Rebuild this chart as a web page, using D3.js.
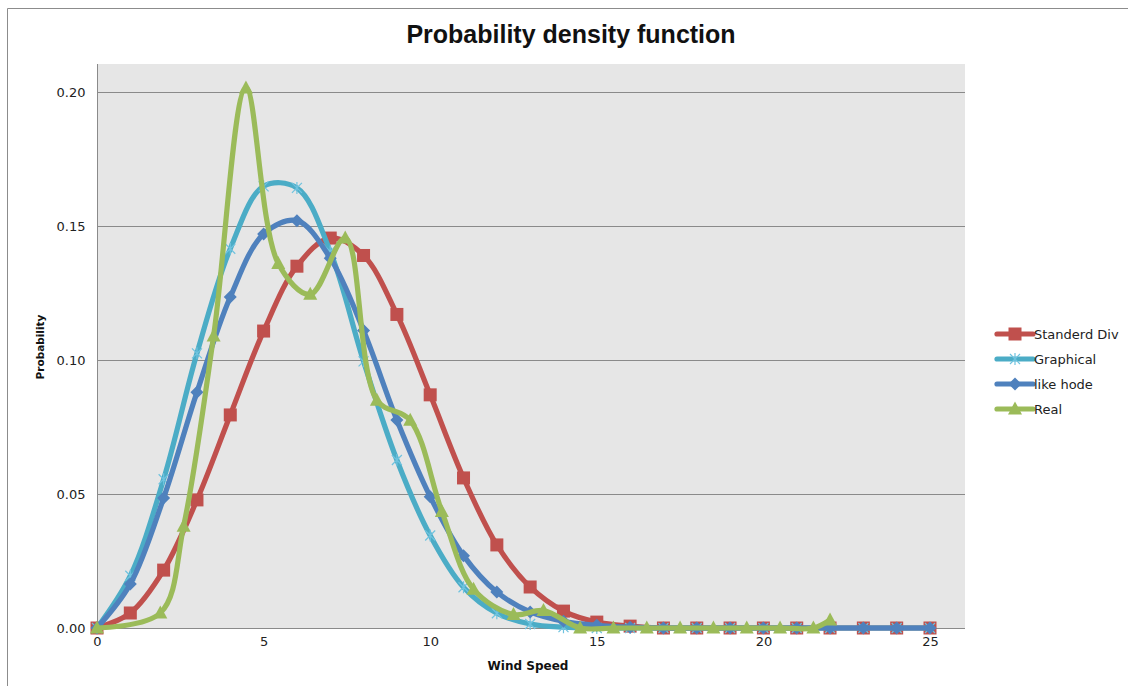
<!DOCTYPE html>
<html>
<head>
<meta charset="utf-8">
<script src="https://cdn.jsdelivr.net/npm/d3@7"></script>
<style>
  body { margin: 0; background: #fff; }
  text { font-family: "DejaVu Sans", sans-serif; }
</style>
</head>
<body>
<svg id="chart" width="1128" height="686"></svg>
<script>
// values
const stdX = [0,1,2,3,4,5,6,7,8,9,10,11,12,13,14,15,16,17,18,19,20,21,22,23,24,25]
const stdY = [0,0.0056,0.0216,0.0478,0.0795,0.1108,0.135,0.1455,0.139,0.117,0.087,0.056,0.031,0.0153,0.0063,0.0022,0.0007,0,0,0,0,0,0,0,0,0]

const graphX = [0,1,2,3,4,5,6,7,8,9,10,11,12,13,14,15,16,17,18,19,20,21,22,23,24,25]
const graphY = [0,0.0195,0.0555,0.1025,0.1415,0.1648,0.1642,0.1405,0.0995,0.0627,0.0345,0.0152,0.0055,0.0015,0.0003,0,0,0,0,0,0,0,0,0,0,0]

const hodeX = [0,1,2,3,4,5,6,7,8,9,10,11,12,13,14,15,16,17,18,19,20,21,22,23,24,25]
const hodeY = [0,0.0164,0.0485,0.088,0.1235,0.147,0.152,0.138,0.111,0.0776,0.049,0.027,0.0134,0.006,0.0025,0.001,0.0003,0,0,0,0,0,0,0,0,0]

const realX = [0,1.9,2.6,3.5,4.47,5.44,6.4,7.45,8.4,9.4,10.35,11.3,12.5,13.4,14.5,15.5,16.5,17.5,18.5,19.5,20.5,21.5,22]
const realY = [0,0.0056,0.038,0.109,0.2015,0.136,0.1245,0.1455,0.085,0.0775,0.0435,0.0145,0.005,0.0065,0,0,0,0,0,0,0,0,0.003]

const seriesNames = ['Standerd Div', 'Graphical', 'like hode', 'Real']
const xTicks = [0,5,10,15,20,25]
const yTicks = [0,0.05,0.10,0.15,0.20]

const series = [
  {name: seriesNames[0], xs: stdX, ys: stdY, color: '#c0504d', marker: 'square'},
  {name: seriesNames[1], xs: graphX, ys: graphY, color: '#4bacc6', marker: 'star'},
  {name: seriesNames[2], xs: hodeX, ys: hodeY, color: '#4f81bd', marker: 'diamond'},
  {name: seriesNames[3], xs: realX, ys: realY, color: '#9bbb59', marker: 'triangle'}
]

const svg = d3.select('#chart')

// plot area
const plotL = 97, plotR = 965, plotT = 64, plotB = 628

const x = d3.scaleLinear().domain([0, 25]).range([plotL, 930])
const y = d3.scaleLinear().domain([0, 0.2]).range([plotB, 92])

// outer frame
svg.append('path')
  .attr('d', 'M7.5,690 V8.5 H1130')
  .attr('fill', 'none')
  .attr('stroke', '#8c8c8c')
  .attr('stroke-width', 1)

svg.append('text')
  .attr('x', 571)
  .attr('y', 43)
  .attr('text-anchor', 'middle')
  .style('font-family', '"Liberation Sans", sans-serif')
  .style('font-weight', 'bold')
  .style('font-size', '25px')
  .attr('fill', '#111')
  .text('Probability density function')

svg.append('rect')
  .attr('x', plotL).attr('y', plotT)
  .attr('width', plotR - plotL).attr('height', plotB - plotT)
  .attr('fill', '#e6e6e6')

// gridlines
svg.append('g')
  .selectAll('line')
  .data(yTicks.filter(d => d > 0))
  .enter().append('line')
  .attr('x1', plotL).attr('x2', plotR)
  .attr('y1', d => Math.round(y(d)) + 0.5)
  .attr('y2', d => Math.round(y(d)) + 0.5)
  .attr('stroke', '#8a8a8a')
  .attr('stroke-width', 1)

// axes
const yAxis = svg.append('g')
  .attr('transform', `translate(${plotL + 0.5},0)`)
  .call(d3.axisLeft(y).tickValues(yTicks).tickFormat(d3.format('.2f')).tickSize(0).tickPadding(12))
yAxis.select('.domain').attr('stroke', '#8a8a8a').attr('d', `M0,${plotT}V${plotB}`)
yAxis.selectAll('text').style('font-size', '13px').attr('fill', '#222')

const xAxis = svg.append('g')
  .attr('transform', `translate(0,${plotB + 0.5})`)
  .call(d3.axisBottom(x).tickValues(xTicks).tickSize(0).tickPadding(8))
xAxis.select('.domain').attr('stroke', '#8a8a8a').attr('d', `M${plotL},0H${plotR}`)
xAxis.selectAll('text').style('font-size', '13px').attr('fill', '#222')

svg.append('text')
  .attr('x', 528).attr('y', 670)
  .attr('text-anchor', 'middle')
  .style('font-weight', 'bold')
  .style('font-size', '12px')
  .attr('fill', '#111')
  .text('Wind Speed')

svg.append('text')
  .attr('transform', 'translate(44,347) rotate(-90)')
  .attr('text-anchor', 'middle')
  .style('font-weight', 'bold')
  .style('font-size', '10.5px')
  .attr('fill', '#111')
  .text('Probability')

// marker drawing
function drawMarker(g, type, color) {
  if (type === 'square') {
    g.append('rect').attr('x', -6.5).attr('y', -6.5).attr('width', 13).attr('height', 13)
      .attr('fill', color)
  } else if (type === 'diamond') {
    g.append('path').attr('d', 'M0,-6.5L6.5,0L0,6.5L-6.5,0Z').attr('fill', color)
  } else if (type === 'triangle') {
    g.append('path').attr('d', 'M0,-7.5L7,5.5L-7,5.5Z').attr('fill', color)
  } else if (type === 'star') {
    g.append('path').attr('d', 'M-5,-5L5,5M-5,5L5,-5M0,-6V6')
      .attr('stroke', '#6fc3df').attr('stroke-width', 1.2).attr('fill', 'none')
  }
}

const line = d3.line()
  .x(d => x(d[0]))
  .y(d => y(d[1]))
  .curve(d3.curveCatmullRom.alpha(0.5))

series.forEach(s => {
  const pts = s.xs.map((v, i) => [v, s.ys[i]])
  const g = svg.append('g')
  g.append('path')
    .datum(pts)
    .attr('d', line)
    .attr('fill', 'none')
    .attr('stroke', s.color)
    .attr('stroke-width', 5.2)
    .attr('stroke-linejoin', 'round')
    .attr('stroke-linecap', 'round')
  g.selectAll('g.pt')
    .data(pts)
    .enter().append('g')
    .attr('class', 'pt')
    .attr('transform', d => `translate(${x(d[0])},${y(d[1])})`)
    .each(function() { drawMarker(d3.select(this), s.marker, s.color) })
})

// legend
const legend = svg.append('g')
  .selectAll('g')
  .data(series)
  .enter().append('g')
  .attr('transform', (d, i) => `translate(997,${334 + i * 25})`)

legend.append('line')
  .attr('x1', 0).attr('x2', 36)
  .attr('stroke', d => d.color)
  .attr('stroke-width', 5.2)
  .attr('stroke-linecap', 'round')

legend.append('g')
  .attr('transform', 'translate(18,0)')
  .each(function(d) { drawMarker(d3.select(this), d.marker, d.color) })

legend.append('text')
  .attr('x', 37).attr('y', 4.5)
  .style('font-size', '13px')
  .attr('fill', '#222')
  .text(d => d.name)
</script>
</body>
</html>
